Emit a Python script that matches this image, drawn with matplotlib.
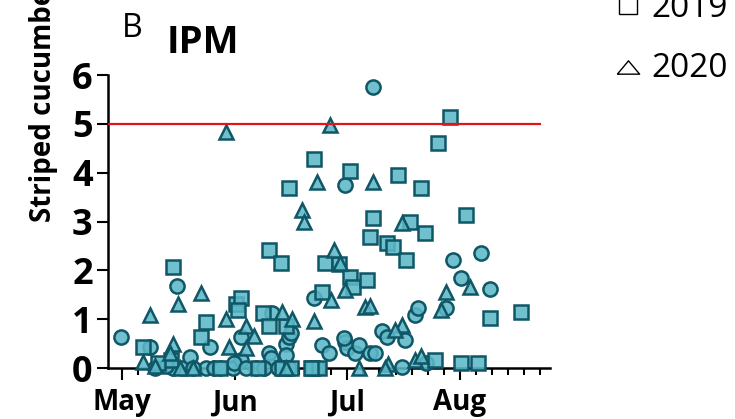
import matplotlib
matplotlib.use("Agg")
import matplotlib.pyplot as plt
from matplotlib.lines import Line2D
import numpy as np

plt.rcParams['font.family'] = ['Open Sans', 'DejaVu Sans']

# ---- data (day of year, beetles per plant) ----
day_2018 = [120.6, 128.7, 130.0, 136.1, 137.6, 139.6, 145.1, 144.2, 146.4, 151.5,
            153.7, 153.7, 151.9, 157.9, 161.5, 162.0, 162.4, 166.1, 167.0, 167.4,
            166.1, 167.0, 173.3, 173.8, 176.1, 177.9, 182.5, 182.5, 182.9, 182.0,
            185.2, 186.1, 189.3, 190.7, 190.2, 192.5, 193.9, 198.9, 198.0, 201.6,
            202.5, 204.8, 212.1, 219.9, 214.4, 222.2, 210.3, 135.0, 140.5, 148.0,
            155.0, 160.0, 164.0, 175.0, 133.0]
val_2018 = [0.63, 0.42, 0.0, 1.68, 0.0, 0.23, 0.44, 0.0, 0.0, 0.0,
            0.63, 0.16, 0.10, 0.0, 0.30, 0.20, 1.12, 0.50, 0.64, 0.71,
            0.27, 0.0, 0.0, 1.43, 0.47, 0.30, 3.75, 0.54, 0.40, 0.61,
            0.30, 0.47, 0.30, 0.30, 5.75, 0.76, 0.64, 0.57, 0.03, 1.09,
            1.22, 0.10, 2.21, 2.35, 1.84, 1.61, 1.22, 0.0, 0.0, 0.0,
            0.0, 0.0, 0.0, 0.0, 0.05]

day_2019 = [135.0, 126.8, 134.6, 144.2, 142.8, 152.4, 153.7, 152.8, 159.7, 161.5,
            161.5, 164.7, 167.0, 166.1, 176.1, 177.0, 180.6, 183.8, 184.7, 188.4,
            190.2, 189.3, 193.9, 195.7, 173.8, 183.8, 197.0, 203.4, 208.0, 200.3,
            204.4, 199.3, 173.3, 175.2, 207.1, 211.2, 215.7, 222.2, 230.8, 214.4,
            218.9, 158.3, 165.1, 167.4, 172.9, 148.0, 131.0]
val_2019 = [2.07, 0.44, 0.16, 0.95, 0.64, 1.32, 1.43, 1.19, 1.12, 0.85,
            2.42, 2.14, 3.68, 0.85, 1.56, 2.14, 2.12, 1.87, 1.66, 1.80,
            3.07, 2.69, 2.55, 2.48, 4.28, 4.03, 3.95, 3.68, 4.60, 3.00,
            2.76, 2.21, 0.0, 0.0, 0.16, 5.15, 3.13, 1.02, 1.15, 0.10,
            0.10, 0.0, 0.0, 0.0, 0.0, 0.0, 0.10]

day_2020 = [149.6, 178.2, 174.7, 190.2, 170.6, 171.0, 198.0, 179.3, 181.1, 182.5,
            178.4, 173.8, 187.9, 189.3, 198.0, 196.2, 186.1, 194.3, 201.6, 203.4,
            210.3, 208.9, 216.7, 128.7, 136.4, 142.8, 149.6, 155.1, 157.4, 150.5,
            155.1, 135.0, 134.1, 126.8, 165.1, 167.9, 136.9, 140.5, 166.1, 193.4,
            130.0]
val_2020 = [4.84, 4.98, 3.80, 3.80, 3.24, 3.00, 2.96, 2.42, 2.14, 1.60,
            1.39, 0.97, 1.24, 1.27, 0.88, 0.78, 0.0, 0.08, 0.16, 0.25,
            1.56, 1.19, 1.66, 1.09, 1.32, 1.53, 1.00, 0.87, 0.66, 0.44,
            0.40, 0.50, 0.30, 0.13, 1.15, 1.00, 0.0, 0.0, 0.0, 0.0,
            0.05]

threshold = 5
month_days = [121, 152, 183, 214]
month_labels = ["May", "Jun", "Jul", "Aug"]
y_ticks = [0, 1, 2, 3, 4, 5, 6]
legend_labels = ["2019", "2020"]

# ---- style ----
fill = (0.36, 0.72, 0.78, 0.88)
edge = "#0f5666"

fig = plt.figure(figsize=(7.35, 4.19), dpi=100)
ax = fig.add_axes([108/735, 1-368/419, 442/735, 293/419])

mk = dict(linestyle="none", mfc=fill, mec=edge, mew=1.8, ms=10.2,
          clip_on=False, zorder=3)
ax.plot(day_2018, val_2018, marker="o", **mk)
ax.plot(day_2019, val_2019, marker="s", **mk)
ax.plot(day_2020, val_2020, marker="^", **mk)

xmin, xmax = 117.15, 238.8
ax.set_xlim(xmin, xmax)
ax.set_ylim(0, 6)
ax.hlines(threshold, xmin, 236.3, color="#e3131b", lw=1.6, zorder=5)

for s in ["top", "right"]:
    ax.spines[s].set_visible(False)
for s in ["left", "bottom"]:
    ax.spines[s].set_linewidth(1.8)

ax.set_yticks(y_ticks)
ax.set_yticklabels([str(v) for v in y_ticks], fontsize=26, fontweight="bold")
ax.set_xticks(month_days)
ax.set_xticklabels(month_labels, fontsize=20, fontweight="bold")
minor = [121 + k*31/7 for k in range(1, 27) if k % 7 != 0]
ax.set_xticks(minor, minor=True)
ax.tick_params(axis="y", length=8, width=1.5, pad=3)
ax.tick_params(axis="x", which="major", length=8.5, width=1.5, pad=6)
ax.tick_params(axis="x", which="minor", length=5, width=1.5)

# titles
fig.text(122/735, 1-37/419, "B", fontsize=23, va="baseline", ha="left")
fig.text(203/735, 1-53/419, "IPM", fontsize=27.5, fontweight="bold",
         va="baseline", ha="center")
fig.text(44/735, 1-222/419, "Striped cucumber beetles per plant", rotation=90,
         fontsize=20, fontweight="bold", ha="center", va="bottom")

# legend (partially cut off at top, as in the reference)
fig.text(651/735, 1-16.7/419, legend_labels[0], fontsize=24, va="baseline", ha="left")
fig.text(651/735, 1-77.3/419, legend_labels[1], fontsize=24, va="baseline", ha="left")
fig.add_artist(Line2D([628/735], [1-5/419], transform=fig.transFigure, marker="s",
                      ms=13.5, mfc="none", mec="black", mew=1.0, linestyle="none"))
tri = [(-1, -0.6), (1, -0.6), (0, 0.6), (-1, -0.6)]
fig.add_artist(Line2D([628/735], [1-67/419], transform=fig.transFigure, marker=tri,
                      ms=16, mfc="none", mec="black", mew=1.0, linestyle="none"))

fig.savefig("out.png", dpi=100)
